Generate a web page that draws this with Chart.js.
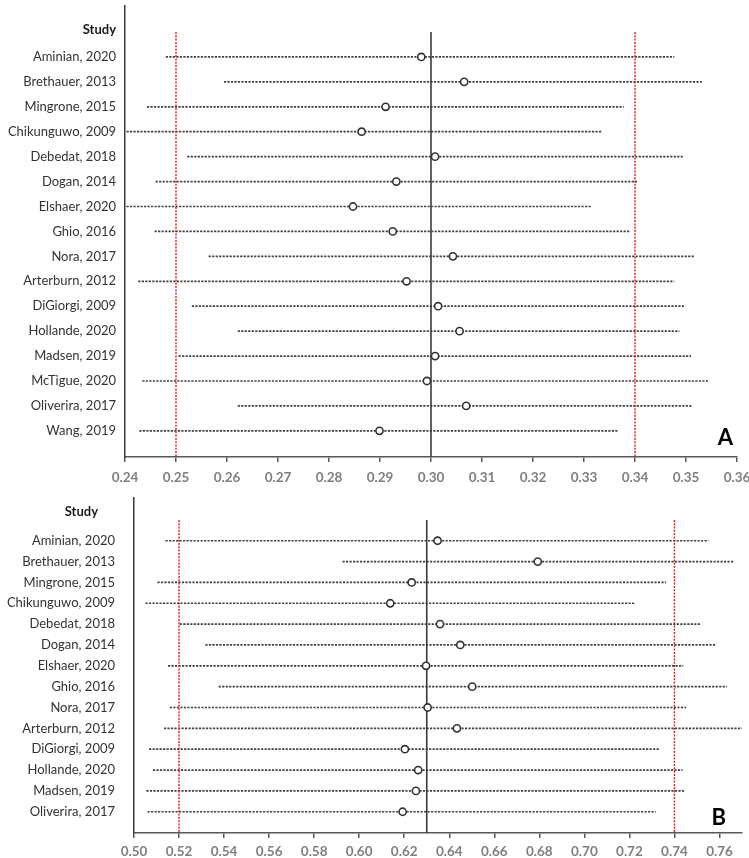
<!DOCTYPE html>
<html>
<head>
<meta charset="utf-8">
<script src="https://cdn.jsdelivr.net/npm/chart.js@4/dist/chart.umd.min.js"></script>
<style>
  body { margin: 0; background: #fff; }
  .panel { position: relative; width: 749px; }
  #boxA { height: 490px; }
  #boxB { height: 368px; }
</style>
</head>
<body>
<div class="panel" id="boxA"><canvas id="chartA"></canvas></div>
<div class="panel" id="boxB"><canvas id="chartB"></canvas></div>
<script>
// Painel A
var studiesA = ['Aminian, 2020', 'Brethauer, 2013', 'Mingrone, 2015', 'Chikunguwo, 2009', 'Debedat, 2018',
    'Dogan, 2014', 'Elshaer, 2020', 'Ghio, 2016', 'Nora, 2017', 'Arterburn, 2012', 'DiGiorgi, 2009',
    'Hollande, 2020', 'Madsen, 2019', 'McTigue, 2020', 'Oliverira, 2017', 'Wang, 2019'];
var estA  = [0.2981, 0.3065, 0.2911, 0.2864, 0.3008, 0.2932, 0.2847, 0.2925, 0.3043, 0.2952, 0.3014, 0.3056, 0.3008, 0.2992, 0.3069, 0.2899];
var lowA  = [0.2480, 0.2594, 0.2443, 0.2403, 0.2522, 0.2460, 0.2403, 0.2458, 0.2564, 0.2426, 0.2531, 0.2621, 0.2505, 0.2434, 0.2621, 0.2428];
var highA = [0.3477, 0.3531, 0.3378, 0.3335, 0.3494, 0.3404, 0.3314, 0.3391, 0.3517, 0.3477, 0.3499, 0.3487, 0.3510, 0.3546, 0.3513, 0.3366];
var refA = 0.30;
var limitsA = [0.25, 0.34];
var ticksA = [0.24, 0.25, 0.26, 0.27, 0.28, 0.29, 0.30, 0.31, 0.32, 0.33, 0.34, 0.35, 0.36];

// Painel B
var studiesB = ['Aminian, 2020', 'Brethauer, 2013', 'Mingrone, 2015', 'Chikunguwo, 2009', 'Debedat, 2018',
    'Dogan, 2014', 'Elshaer, 2020', 'Ghio, 2016', 'Nora, 2017', 'Arterburn, 2012', 'DiGiorgi, 2009',
    'Hollande, 2020', 'Madsen, 2019', 'Oliverira, 2017'];
var estB  = [0.6348, 0.6793, 0.6233, 0.6138, 0.6359, 0.6449, 0.6297, 0.6502, 0.6304, 0.6434, 0.6203, 0.6262, 0.6252, 0.6193];
var lowB  = [0.5140, 0.5926, 0.5104, 0.5051, 0.5203, 0.5317, 0.5151, 0.5376, 0.5159, 0.5133, 0.5067, 0.5084, 0.5055, 0.5060];
var highB = [0.7551, 0.7662, 0.7363, 0.7222, 0.7517, 0.7585, 0.7440, 0.7633, 0.7452, 0.7704, 0.7336, 0.7436, 0.7448, 0.7317];
var refB = 0.63;
var limitsB = [0.52, 0.74];
var ticksB = [0.50, 0.52, 0.54, 0.56, 0.58, 0.60, 0.62, 0.64, 0.66, 0.68, 0.70, 0.72, 0.74, 0.76];

var FONT = 'Lato, "Open Sans", sans-serif';

// Texto "Study" e letra do painel
var panelText = {
    id: 'panelText',
    afterDraw: function(chart, args, opts) {
        var ctx = chart.ctx;
        var y = chart.scales.y;
        ctx.save();
        ctx.textAlign = 'right';
        ctx.textBaseline = 'middle';
        ctx.fillStyle = '#1a1a1a';
        ctx.font = 'bold 13px ' + FONT;
        ctx.fillText('Study', opts.headerX, y.getPixelForValue(opts.headerRow));
        ctx.fillStyle = '#000';
        ctx.font = 'bold 22px ' + FONT;
        ctx.fillText(opts.letter, opts.letterX, y.getPixelForValue(opts.letterRow));
        ctx.restore();
    }
};

function makeChart(id, cfg) {
    var datasets = [];

    // intervalos (linhas pontilhadas)
    cfg.studies.forEach(function(s, i) {
        datasets.push({
            data: [{ x: cfg.low[i], y: i }, { x: cfg.high[i], y: i }],
            showLine: true,
            borderColor: '#404040',
            borderWidth: 1.7,
            borderDash: [2.2, 1.3],
            pointRadius: 0,
            order: 3
        });
    });

    // linhas de referência
    datasets.push({
        data: [{ x: cfg.ref, y: -1 }, { x: cfg.ref, y: cfg.yMax }],
        showLine: true,
        borderColor: '#3a3a3a',
        borderWidth: 1.6,
        pointRadius: 0,
        order: 2
    });
    cfg.limits.forEach(function(v) {
        datasets.push({
            data: [{ x: v, y: -1 }, { x: v, y: cfg.yMax }],
            showLine: true,
            borderColor: '#e41a1a',
            borderWidth: 1.4,
            borderDash: [2, 1.3],
            pointRadius: 0,
            order: 2
        });
    });

    // estimativas
    datasets.push({
        data: cfg.est.map(function(v, i) { return { x: v, y: i }; }),
        showLine: false,
        pointRadius: 3.6,
        pointBorderWidth: 1.6,
        pointBorderColor: '#333',
        pointBackgroundColor: '#fff',
        order: 0
    });

    return new Chart(document.getElementById(id).getContext('2d'), {
        type: 'scatter',
        data: { datasets: datasets },
        options: {
            responsive: true,
            maintainAspectRatio: false,
            animation: false,
            layout: { padding: cfg.padding },
            plugins: {
                legend: { display: false },
                tooltip: { enabled: false },
                panelText: cfg.text
            },
            scales: {
                x: {
                    type: 'linear',
                    min: cfg.xMin,
                    max: cfg.xMax,
                    afterBuildTicks: function(scale) {
                        scale.ticks = cfg.ticks.map(function(v) { return { value: v }; });
                    },
                    afterFit: function(scale) {
                        scale.height = cfg.xHeight;
                        scale.paddingLeft = 0;
                        scale.paddingRight = 0;
                    },
                    grid: {
                        drawOnChartArea: false,
                        drawTicks: true,
                        tickLength: 5,
                        tickColor: '#595959',
                        lineWidth: 1.5
                    },
                    border: { display: true, color: '#595959', width: 1.5 },
                    ticks: {
                        padding: cfg.xPad,
                        color: '#7f7f7f',
                        font: { family: FONT, size: 13.5, weight: 'bold' },
                        maxRotation: 0,
                        autoSkip: false,
                        callback: function(v) { return Number(v).toFixed(2); }
                    }
                },
                y: {
                    type: 'linear',
                    reverse: true,
                    min: cfg.yMin,
                    max: cfg.yMax,
                    afterBuildTicks: function(scale) {
                        scale.ticks = cfg.studies.map(function(s, i) { return { value: i }; });
                    },
                    afterFit: function(scale) {
                        scale.width = cfg.yWidth;
                        scale.paddingTop = 0;
                        scale.paddingBottom = 0;
                    },
                    grid: { display: false, drawTicks: false },
                    border: { display: true, color: '#3a3a3a', width: 1.5 },
                    ticks: {
                        padding: cfg.yPad,
                        color: '#333',
                        font: { family: FONT, size: 13 },
                        autoSkip: false,
                        callback: function(v) { return cfg.studies[v]; }
                    }
                }
            }
        },
        plugins: [panelText]
    });
}

makeChart('chartA', {
    studies: studiesA, est: estA, low: lowA, high: highA,
    ref: refA, limits: limitsA, ticks: ticksA,
    xMin: 0.24, xMax: 0.36, yMin: -2.06, yMax: 16.05,
    yWidth: 125, yPad: 9, xHeight: 33, xPad: 8,
    padding: { top: 0, right: 12, bottom: 0, left: 0 },
    text: { headerX: 116, headerRow: -1.1, letter: 'A', letterX: 733, letterRow: 15.3 }
});

makeChart('chartB', {
    studies: studiesB, est: estB, low: lowB, high: highB,
    ref: refB, limits: limitsB, ticks: ticksB,
    xMin: 0.50, xMax: 0.77, yMin: -2.05, yMax: 14.02,
    yWidth: 134, yPad: 19, xHeight: 25, xPad: 6,
    padding: { top: 8, right: 7, bottom: 0, left: 0 },
    text: { headerX: 98, headerRow: -1.38, letter: 'B', letterX: 726, letterRow: 13.3 }
});
</script>
</body>
</html>
